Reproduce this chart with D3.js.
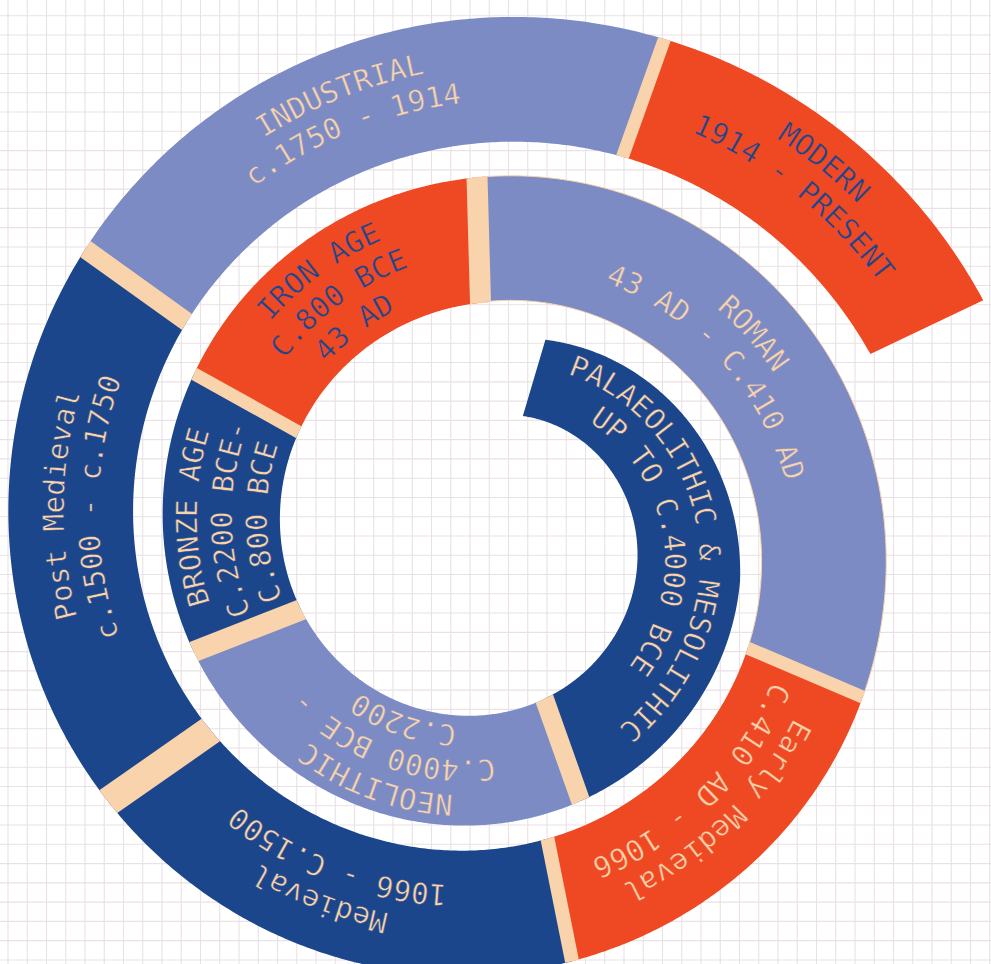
<!DOCTYPE html>
<html><head><meta charset="utf-8">
<script src="https://cdn.jsdelivr.net/npm/d3@7/dist/d3.min.js"></script>
<style>html,body{margin:0;padding:0;background:#fff;overflow:hidden}</style>
</head><body>
<script>
// ---- data ----
const periods = ["Palaeolithic & Mesolithic","Neolithic","Bronze Age","Iron Age","Roman","Early Medieval","Medieval","Post Medieval","Industrial","Modern"];
const labelLines = [
  ["PALAEOLITHIC & MESOLITHIC","UP TO C.4000 BCE"],
  ["NEOLITHIC","C.4000 BCE -","C.2200"],
  ["BRONZE AGE","C.2200 BCE-","C.800 BCE"],
  ["IRON AGE","C.800 BCE","43 AD"],
  ["ROMAN","43 AD - C.410 AD"],
  ["Early Medieval","C.410 AD - 1066"],
  ["Medieval","1066 - C.1500"],
  ["Post Medieval","c.1500 - c.1750"],
  ["INDUSTRIAL","c.1750 - 1914"],
  ["MODERN","1914 - PRESENT"]
];
const spans = [144, 88.2, 50.5, 59.3, 114.7, 55.6, 66.4, 70.6, 74, 44.9];
const fillKeys = ["dark","light","dark","orange","light","orange","dark","dark","light","orange"];
const textKeys = ["beige","beige","beige","dark","beige","beige","beige","beige","beige","dark"];

// ---- layout / style ----
const W = 991, H = 964, cx = 487, cy = 537;
const palette = {dark:"#1b468b", light:"#7c8bc4", orange:"#ef4924", beige:"#f9d3ab"};
const gapWidths = [19,21,13,21,13,14,29,19,13];
const labelShift = [1,0,0,-1,-3,-1,3,4,-1,0];
const radialShift = [4,0,0,0,0,0,0,0,7,12];
const fontSize = 29, lineGap = 35;
const rad = t => t * Math.PI / 180;

const S = t => 219.6 + 0.366*t + 7e-5*t*t;
const outerR = t => S(t) - 20*Math.max(0, (100 - t)/83.5);
const innerR = t => t < 360 ? 121 + 0.316*t : S(t) - 125;
const midR = t => (innerR(t) + outerR(t)) / 2;

const total = d3.sum(spans);
const angle = d3.scaleLinear().domain([0, total]).range([16.5, 784.5]);
const cum = [0]; spans.forEach(s => cum.push(cum[cum.length-1] + s));
const segs = spans.map((s,i) => ({i, t0: angle(cum[i]), t1: angle(cum[i+1])}));

const svg = d3.select("body").append("svg").attr("width", W).attr("height", H);

// grid
const grid = svg.append("g").attr("stroke", "#e9e1e5").attr("stroke-width", 1.1);
grid.selectAll("line.v").data(d3.range(8, W, 19.25)).join("line")
  .attr("x1", d=>d).attr("x2", d=>d).attr("y1", 0).attr("y2", H);
grid.selectAll("line.h").data(d3.range(15.7, H, 19.27)).join("line")
  .attr("y1", d=>d).attr("y2", d=>d).attr("x1", 0).attr("x2", W);

const g = svg.append("g").attr("transform", `translate(${cx},${cy})`);
const area = d3.areaRadial().angle(t => rad(t)).innerRadius(innerR).outerRadius(outerR);
const samples = (a,b,step) => { const r = d3.range(a, b, step); r.push(b); return r; };

const defs = svg.append("defs");
defs.append("clipPath").attr("id","band").append("path")
  .attr("d", area(samples(segs[0].t0, segs[segs.length-1].t1, 0.5)));

g.selectAll("path.seg").data(segs).join("path")
  .attr("class","seg")
  .attr("d", d => area(samples(d.t0, d.t1, 0.5)))
  .attr("fill", d => palette[fillKeys[d.i]])
  .attr("stroke", d => d.i === 4 ? palette.beige : "none")
  .attr("stroke-width", 1);

// separators
g.append("g").attr("clip-path","url(#band)").selectAll("line").data(segs.slice(1)).join("line")
  .each(function(d, k){
    const t = d.t0, r0 = innerR(t) - 3, r1 = outerR(t) + 3;
    d3.select(this)
      .attr("x1", r0*Math.sin(rad(t))).attr("y1", -r0*Math.cos(rad(t)))
      .attr("x2", r1*Math.sin(rad(t))).attr("y2", -r1*Math.cos(rad(t)))
      .attr("stroke", palette.beige).attr("stroke-width", gapWidths[k]);
  });

// labels
const lineR = d3.lineRadial().angle(t => rad(t));
const tmp = g.append("path").attr("fill","none");
segs.forEach(d => {
  const lines = labelLines[d.i];
  const n = lines.length;
  const tm = (d.t0 + d.t1) / 2 + labelShift[d.i];
  lines.forEach((txt, j) => {
    const off = ((n-1)/2 - j) * lineGap - 0.36*fontSize + radialShift[d.i];
    const rf = t => midR(t) + off;
    lineR.radius(rf);
    const id = `tp${d.i}_${j}`;
    defs.append("path").attr("id", id)
      .attr("transform", `translate(${cx},${cy})`)
      .attr("d", lineR(samples(tm-170, tm+170, 1)));
    tmp.attr("d", lineR(samples(tm-170, tm, 1)));
    const half = tmp.node().getTotalLength();
    svg.append("text")
      .attr("font-family", "'DejaVu Sans Mono', monospace")
      .attr("font-size", fontSize)
      .attr("fill", palette[textKeys[d.i]])
      .attr("stroke", palette[fillKeys[d.i]])
      .attr("stroke-width", 0.5)
      .append("textPath").attr("href", "#"+id)
      .attr("startOffset", half).attr("text-anchor","middle")
      .text(txt);
  });
});
tmp.remove();
</script>
</body></html>
